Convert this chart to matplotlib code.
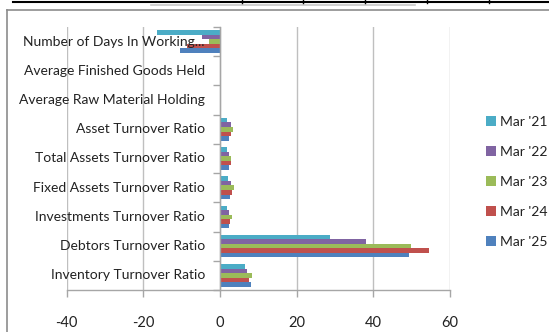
import matplotlib
matplotlib.use("Agg")
import matplotlib.pyplot as plt
import numpy as np
from matplotlib.lines import Line2D

categories = [
    "Inventory Turnover Ratio",
    "Debtors Turnover Ratio",
    "Investments Turnover Ratio",
    "Fixed Assets Turnover Ratio",
    "Total Assets Turnover Ratio",
    "Asset Turnover Ratio",
    "Average Raw Material Holding",
    "Average Finished Goods Held",
    "Number of Days In Working...",
]
series_names = ["Mar '21", "Mar '22", "Mar '23", "Mar '24", "Mar '25"]

mar21 = [6.5, 28.7, 1.75, 2.2, 1.75, 1.75, 0, 0, -16.5]
mar22 = [7.1, 38.0, 2.4, 3.0, 2.4, 2.8, 0, 0, -4.7]
mar23 = [8.3, 49.8, 3.1, 3.7, 3.0, 3.3, 0, 0, -2.8]
mar24 = [7.7, 54.6, 2.6, 3.1, 2.8, 2.8, 0, 0, -8.5]
mar25 = [8.0, 49.3, 2.3, 2.7, 2.4, 2.4, 0, 0, -10.3]

colors = ["#4BACC6", "#8064A2", "#9BBB59", "#C0504D", "#4F81BD"]
x_ticks = [-40, -20, 0, 20, 40, 60]

plt.rcParams["font.family"] = ["Lato", "DejaVu Sans"]
FS = 10

fig = plt.figure(figsize=(5.49, 3.32), dpi=100)
ax = fig.add_axes([66.5 / 549, 1 - 290 / 332, (450 - 66.5) / 549, (290 - 27) / 332])

y = np.arange(len(categories))
h = 0.155
all_series = [mar21, mar22, mar23, mar24, mar25]
for k, (vals, c, name) in enumerate(zip(all_series, colors, series_names)):
    offset = (2 - k) * h
    ax.barh(y + offset, vals, height=h, color=c, label=name, zorder=2, linewidth=0)

ax.set_xlim(-40, 60)
ax.set_ylim(-0.5, len(categories) - 0.5)
ax.set_xticks(x_ticks)
ax.set_xticklabels([str(v) for v in x_ticks], fontsize=FS + 0.5)
ax.xaxis.grid(True, color="#BFBFBF", linewidth=1.0, zorder=0)
ax.set_axisbelow(True)

# category boundaries carry the tick marks; labels are placed separately
ax.set_yticks(np.arange(-0.5, len(categories), 1.0))
ax.set_yticklabels([])
ax.spines["left"].set_position(("data", 0))
for s in ["top", "right"]:
    ax.spines[s].set_visible(False)
for s in ["left", "bottom"]:
    ax.spines[s].set_color("#A6A6A6")
    ax.spines[s].set_linewidth(1.0)
ax.tick_params(axis="y", direction="out", length=5, color="#A6A6A6", width=1)
ax.tick_params(axis="x", direction="out", length=5, color="#A6A6A6", width=1,
               pad=14, labelcolor="#222222")

for i, cat in enumerate(categories):
    ax.annotate(cat, xy=(0, i), xytext=(-15, 0), textcoords="offset pixels",
                ha="right", va="center", fontsize=FS, color="#222222", zorder=5)

leg = ax.legend(loc="upper left", bbox_to_anchor=(480 / 549, 1 - 110 / 332),
                bbox_transform=fig.transFigure, frameon=False, fontsize=FS,
                handlelength=0.75, handleheight=0.75, handletextpad=0.3,
                labelspacing=1.3, borderaxespad=0)
for t in leg.get_texts():
    t.set_color("#222222")

# surrounding frame and header rule
fig.add_artist(Line2D([7 / 549, 7 / 549], [1 - 10 / 332, 0], transform=fig.transFigure,
                      color="#8C8C8C", linewidth=1.2))
fig.add_artist(Line2D([7 / 549, 1], [1 - 10 / 332, 1 - 10 / 332], transform=fig.transFigure,
                      color="#8C8C8C", linewidth=1.2))
fig.add_artist(Line2D([13 / 549, 1], [1 - 2 / 332, 1 - 2 / 332], transform=fig.transFigure,
                      color="#000000", linewidth=1.5))
fig.add_artist(Line2D([151 / 549, 415 / 549], [1 - 4.5 / 332, 1 - 4.5 / 332],
                      transform=fig.transFigure, color="#C8C8C8", linewidth=1.2))
for xs in [241.6, 303, 365, 427, 489]:
    fig.add_artist(Line2D([xs / 549, xs / 549], [1, 1 - 3 / 332], transform=fig.transFigure,
                          color="#000000", linewidth=1.0))

fig.savefig("out.png", dpi=100)
